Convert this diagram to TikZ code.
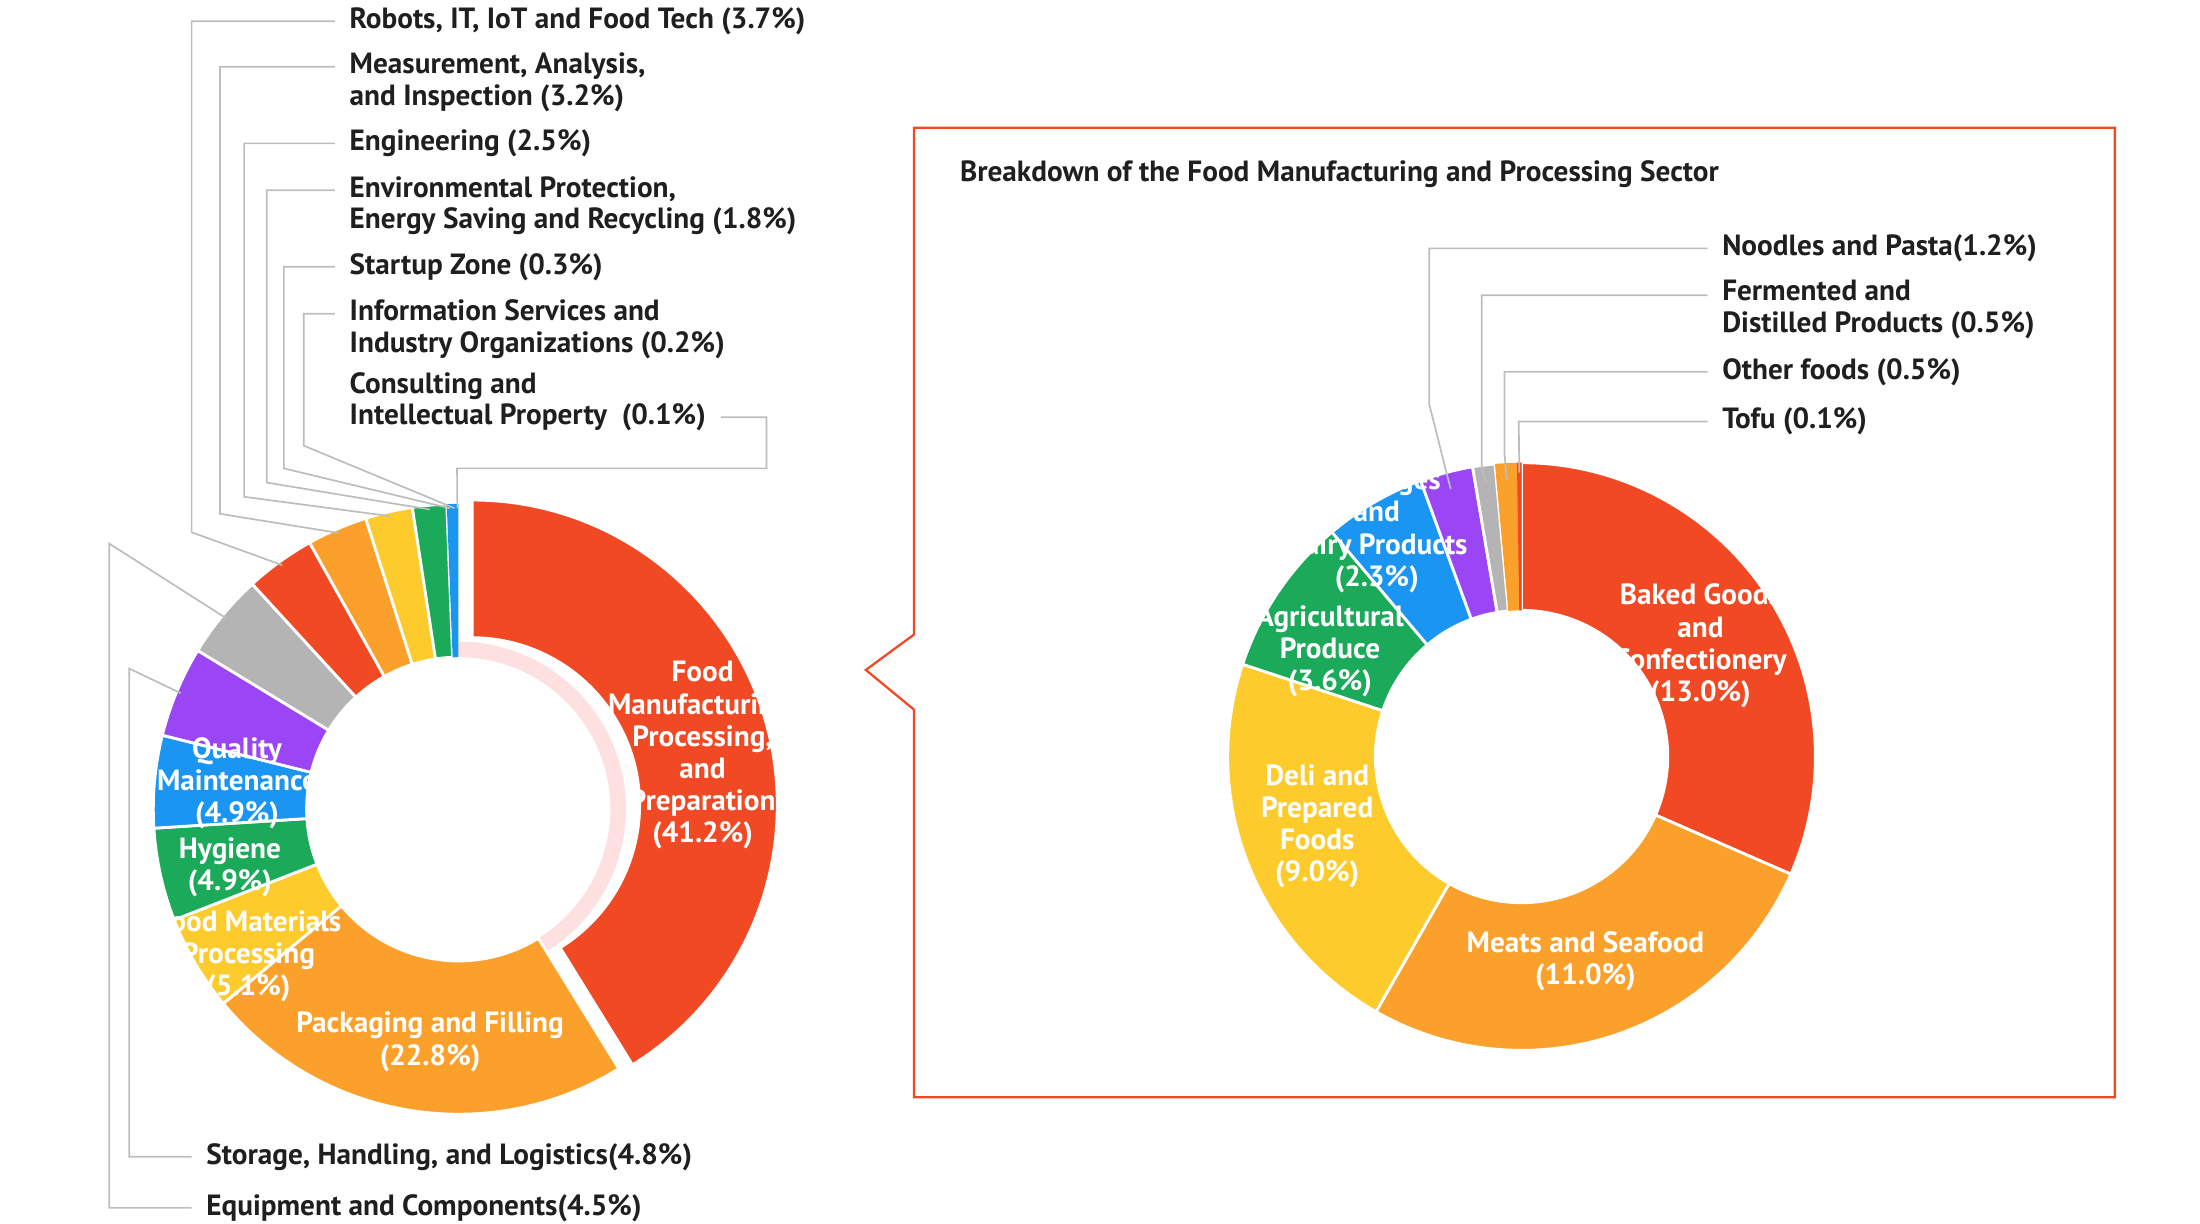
\documentclass[tikz,border=0pt]{standalone}
\usepackage{fontspec}
\setmainfont{PT Sans}
\usetikzlibrary{calc}
\definecolor{cR}{HTML}{F04923}
\definecolor{cO}{HTML}{FBA12B}
\definecolor{cY}{HTML}{FECB2D}
\definecolor{cG}{HTML}{1BAA5A}
\definecolor{cB}{HTML}{1A96F2}
\definecolor{cP}{HTML}{9B46F5}
\definecolor{cK}{HTML}{B4B4B4}
\definecolor{lead}{HTML}{BDBDBD}
\newcommand{\myslice}[6]{% center, Rout, Rin, a1, a2, color
  \fill[#6,draw=white,line width=1pt] ($(#1)+(#4:#2)$) arc[start angle=#4,end angle=#5,radius=#2] -- ($(#1)+(#5:#3)$) arc[start angle=#5,end angle=#4,radius=#3] -- cycle;}
\tikzset{
  lbl/.style={anchor=west,inner sep=0pt,font=\fontsize{10.3}{11.2}\selectfont\bfseries,text=black!88,align=left},
  inl/.style={inner sep=0pt,font=\fontsize{10.3}{11.3}\selectfont\bfseries,text=white,align=center},
  ld/.style={draw=lead,line width=0.6pt},
}
\begin{document}
\begin{tikzpicture}[x=0.5pt,y=0.5pt]
\useasboundingbox (0,0) rectangle (1550,-862);
\coordinate (cL) at (323,-570);
\coordinate (cF) at ($(cL)+(15.8:10)$);
\coordinate (cRt) at (1072,-533);
% left donut
\fill[red!12] ($(cL)+(90:107)$) arc[start angle=90,end angle=-58.3,radius=107] -- ($(cL)+(-58.3:118)$) arc[start angle=-58.3,end angle=90,radius=118] -- cycle;
\myslice{cF}{215}{118}{90}{-58.3}{cR}
\myslice{cL}{215}{107}{-58.3}{-140.4}{cO}
\myslice{cL}{215}{107}{-140.4}{-158.7}{cY}
\myslice{cL}{215}{107}{-158.7}{-176.4}{cG}
\myslice{cL}{215}{107}{-176.4}{-194.0}{cB}
\myslice{cL}{215}{107}{166.0}{148.7}{cP}
\myslice{cL}{215}{107}{148.7}{132.5}{cK}
\myslice{cL}{215}{107}{132.5}{119.2}{cR}
\myslice{cL}{215}{107}{119.2}{107.7}{cO}
\myslice{cL}{215}{107}{107.7}{98.7}{cY}
\myslice{cL}{215}{107}{98.7}{92.2}{cG}
\fill[cB] ($(cL)+(92.2:215)$) arc[start angle=92.2,end angle=90,radius=215] -- ($(cL)+(90:107)$) arc[start angle=90,end angle=92.2,radius=107] -- cycle;
% right donut
\myslice{cRt}{207}{103}{90}{-23.6}{cR}
\myslice{cRt}{207}{103}{-23.6}{-119.7}{cO}
\myslice{cRt}{207}{103}{-119.7}{-198.3}{cY}
\myslice{cRt}{207}{103}{161.7}{130.2}{cG}
\myslice{cRt}{207}{103}{130.2}{110.1}{cB}
\myslice{cRt}{207}{103}{110.1}{99.6}{cP}
\myslice{cRt}{207}{103}{99.6}{95.2}{cK}
\fill[cO] ($(cRt)+(95.2:207)$) arc[start angle=95.2,end angle=90,radius=207] -- ($(cRt)+(90:103)$) arc[start angle=90,end angle=95.2,radius=103] -- cycle;
\fill[cR] ($(cRt)+(90.9:207)$) arc[start angle=90.9,end angle=90,radius=207] -- ($(cRt)+(90:103)$) arc[start angle=90,end angle=90.9,radius=103] -- cycle;
% callout box
\draw[cR,line width=0.8pt] (644,-447) -- (644,-90) -- (1490,-90) -- (1490,-773) -- (644,-773) -- (644,-500) -- (610,-472) -- cycle;
\node[lbl] (title) at (676,-123) {Breakdown of the Food Manufacturing and Processing Sector};
% left labels
\node[lbl] (rob) at (246,-15) {Robots, IT, IoT and Food Tech (3.7\%)};
\node[lbl] (mea) at (246,-58) {Measurement, Analysis,\\and Inspection (3.2\%)};
\node[lbl] (eng) at (246,-101) {Engineering (2.5\%)};
\node[lbl] (env) at (246,-145) {Environmental Protection,\\Energy Saving and Recycling (1.8\%)};
\node[lbl] (sta) at (246,-188) {Startup Zone (0.3\%)};
\node[lbl] (inf) at (246,-232) {Information Services and\\Industry Organizations (0.2\%)};
\node[lbl] (con) at (246,-283) {Consulting and\\Intellectual Property\ \ (0.1\%)};
\node[lbl] (sto) at (145,-815) {Storage, Handling, and Logistics(4.8\%)};
\node[lbl] (equ) at (145,-851) {Equipment and Components(4.5\%)};
\draw[ld] ([xshift=-5]rob.west) -- (135,-15) -- (135,-375) -- ($(cL)+(125.85:212)$);
\draw[ld] ([xshift=-5]mea.west |- 0,-47) -- (155,-47) -- (155,-362) -- ($(cL)+(113.45:212)$);
\draw[ld] ([xshift=-5]eng.west) -- (172,-101) -- (172,-350) -- ($(cL)+(103.2:212)$);
\draw[ld] ([xshift=-5]env.west |- 0,-134) -- (188,-134) -- (188,-340) -- ($(cL)+(95.45:212)$);
\draw[ld] ([xshift=-5]sta.west) -- (200,-188) -- (200,-330) -- ($(cL)+(91.65:212)$);
\draw[ld] ([xshift=-5]inf.west |- 0,-221) -- (214,-221) -- (214,-314) -- ($(cL)+(90.75:212)$);
\draw[ld] ([xshift=5]con.east |- 0,-294) -- (540,-294) -- (540,-330) -- (322,-330) -- ($(cL)+(90.2:212)$);
\draw[ld] ([xshift=-5]sto.west) -- (91,-815) -- (91,-471) -- ($(cL)+(157.35:212)$);
\draw[ld] ([xshift=-5]equ.west) -- (77,-851) -- (77,-383) -- ($(cL)+(140.6:212)$);
% right labels
\node[lbl] (noo) at (1213,-175) {Noodles and Pasta(1.2\%)};
\node[lbl] (fer) at (1213,-218) {Fermented and\\Distilled Products (0.5\%)};
\node[lbl] (oth) at (1213,-262) {Other foods (0.5\%)};
\node[lbl] (tof) at (1213,-297) {Tofu (0.1\%)};
\draw[ld] ([xshift=-5]noo.west) -- (1007,-175) -- (1007,-285) -- ($(cRt)+(104.85:195)$);
\draw[ld] ([xshift=-5]fer.west |- 0,-208) -- (1044,-208) -- (1044,-330) -- ($(cRt)+(97.4:195)$);
\draw[ld] ([xshift=-5]oth.west) -- (1060,-262) -- (1060,-320) -- ($(cRt)+(93.05:195)$);
\draw[ld] ([xshift=-5]tof.west) -- (1070,-297) -- ($(cRt)+(90.45:200)$);
% inside labels
\node[inl] (food) at (495,-532) {Food\\Manufacturing,\\Processing,\\and\\Preparation\\(41.2\%)};
\node[inl] (qua) at (167,-552) {Quality\\Maintenance\\(4.9\%)};
\node[inl] (hyg) at (162,-611) {Hygiene\\(4.9\%)};
\node[inl] (fma) at (175,-674) {Food Materials\\Processing\\(5.1\%)};
\node[inl] (pac) at (303,-734) {Packaging and Filling\\(22.8\%)};
\node[inl] (bak) at (1198,-455) {Baked Goods\\and\\Confectionery\\(13.0\%)};
\node[inl] (mts) at (1117,-677) {Meats and Seafood\\(11.0\%)};
\node[inl] (del) at (928,-582) {Deli and\\Prepared\\Foods\\(9.0\%)};
\node[inl] (agr) at (937,-459) {Agricultural\\Produce\\(3.6\%)};
\node[inl] (bev) at (970,-374) {Beverages\\and\\Dairy Products\\(2.3\%)};
\end{tikzpicture}
\end{document}
